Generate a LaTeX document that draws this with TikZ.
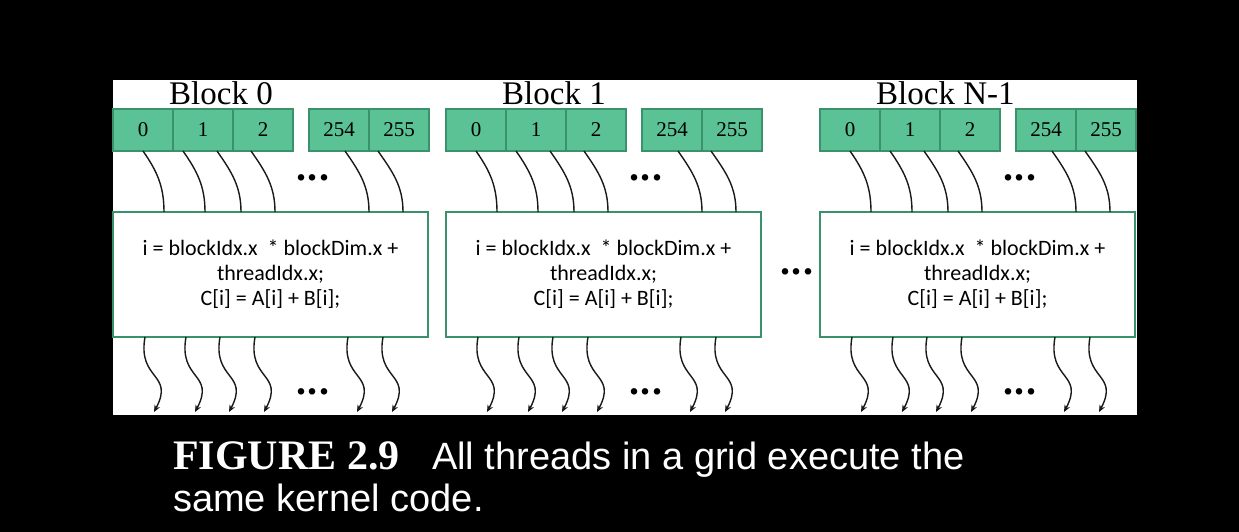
\documentclass[tikz,border=0pt]{standalone}
\usepackage{fontspec}
\setmainfont{Liberation Serif}
\newfontfamily\codefont{Carlito}
\newfontfamily\capfont{Liberation Sans}
\usetikzlibrary{arrows.meta}
\definecolor{cellgreen}{RGB}{90,194,148}
\definecolor{edgegreen}{RGB}{58,145,108}
\tikzset{
  cell/.style={draw=edgegreen,fill=cellgreen,line width=1.2pt,minimum width=60pt,minimum height=42pt,inner sep=0pt,font=\fontsize{21}{21}\selectfont},
  kernel/.style={draw=edgegreen,fill=white,line width=2pt,minimum width=315pt,minimum height=125pt,align=center,font=\codefont\fontsize{22}{25}\selectfont},
  thread/.style={line width=1.4pt,black!90},
  tdots/.style={inner sep=0pt,font=\bfseries\fontsize{40}{40}\selectfont},
  caption/.style={anchor=base west,inner sep=0pt,text=white}
}
\begin{document}
\begin{tikzpicture}[x=1pt,y=1pt]
\useasboundingbox (0,0) rectangle (1239,532);
\fill[black] (0,0) rectangle (1239,532);
\fill[white] (113,117) rectangle (1137,452);

% one block of threads per pass
\foreach \b/\x/\lab in {0/113/Block 0,1/446/Block 1,2/820/Block N-1}{
  \node[anchor=base west,inner sep=0pt,font=\fontsize{33}{33}\selectfont] (lab\b) at (\x+56,427) {\lab};
  \node[cell] (c\b-0) at (\x+30,402) {0};
  \node[cell] (c\b-1) at (\x+90,402) {1};
  \node[cell] (c\b-2) at (\x+150,402) {2};
  \node[cell] (c\b-254) at (\x+226,402) {254};
  \node[cell] (c\b-255) at (\x+286,402) {255};
  \node[kernel] (k\b) at (\x+157.5,257.5) {i = blockIdx.x\ \ * blockDim.x +\\threadIdx.x;\\C[i] = A[i] + B[i];};

  \node[tdots,anchor=base] (td\b) at (\x+200,351) {.\hspace{1.5pt}.\hspace{1.5pt}.};
  \node[tdots,anchor=base] (bd\b) at (\x+200,137) {.\hspace{1.5pt}.\hspace{1.5pt}.};

  % threads entering the kernel
  \foreach \s/\e in {30/51,70/92,104/128,138/162,232/256,265/290}{
    \coordinate (in\b-\s) at (\x+\s,381);
    \coordinate (ke\b-\s) at (\x+\e,320);
    \draw[thread] (in\b-\s) to[out=-55,in=90] (ke\b-\s);
  }
  % threads leaving the kernel
  \foreach \s in {32,73,107,142,235,270}{
    \coordinate (ko\b-\s) at (\x+\s,195);
    \coordinate (out\b-\s) at (\x+\s+9,120);
    \draw[thread,-{Stealth[length=7pt,width=6pt]}] (ko\b-\s) to[out=-100,in=62,looseness=1.5] (out\b-\s);
  }
}
\node[tdots,anchor=base] (mid) at (797,257) {.\hspace{1.5pt}.\hspace{1.5pt}.};

\node[caption,font=\bfseries\fontsize{42}{42}\selectfont] (fig) at (173,62) {FIGURE 2.9};
\node[caption,font=\capfont\fontsize{38}{38}\selectfont] (cap1) at (432,62) {All threads in a grid execute the};
\node[caption,font=\capfont\fontsize{38}{38}\selectfont] (cap2) at (173,20) {same kernel code.};
\end{tikzpicture}
\end{document}
